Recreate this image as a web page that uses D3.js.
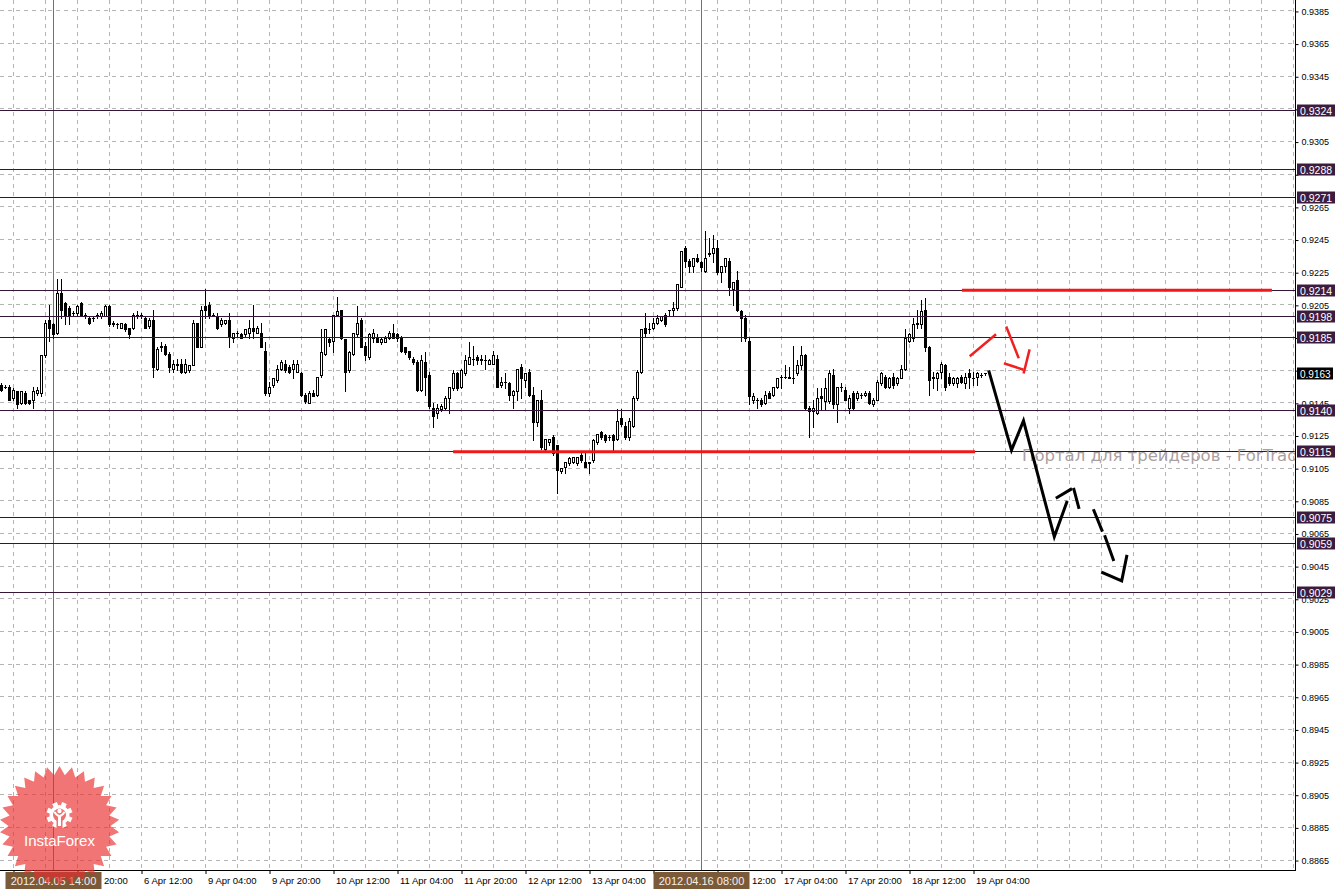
<!DOCTYPE html>
<html>
<head>
<meta charset="utf-8">
<script src="https://cdn.jsdelivr.net/npm/d3@7"></script>
<style>
  body { margin: 0; background: #fff; }
  svg { display: block; font-family: "Liberation Sans", Arial, sans-serif; }
</style>
</head>
<body>
<svg id="chart" width="1337" height="889"></svg>
<script>
"use strict";

// Hourly bars, 5 Apr 01:00 .. 19 Apr 08:00 (weekends skipped)
var opens = [
  .9156,.9155,.9155,.9148,.9152,.9145,.9151,.9147,.9147,.9151,.9151,.9174,.9196,.9193,.9188,.9212,
  .9206,.9203,.9200,.9200,.9206,.9199,.9197,.9197,.9198,.9198,.9198,.9204,.9194,.9193,.9191,.9193,
  .9191,.9191,.9198,.9198,.9197,.9192,.9196,.9166,.9179,.9180,.9175,.9166,.9168,.9169,.9164,.9165,
  .9168,.9194,.9179,.9204,.9205,.9199,.9198,.9193,.9194,.9196,.9185,.9188,.9187,.9187,.9188,.9191,
  .9188,.9188,.9177,.9151,.9156,.9159,.9166,.9169,.9167,.9166,.9164,.9163,.9150,.9145,.9151,.9150,
  .9162,.9175,.9184,.9183,.9199,.9202,.9184,.9165,.9175,.9187,.9196,.9180,.9173,.9185,.9185,.9182,
  .9182,.9185,.9188,.9187,.9185,.9179,.9177,.9172,.9170,.9153,.9170,.9162,.9142,.9139,.9141,.9142,
  .9148,.9154,.9163,.9155,.9163,.9169,.9172,.9173,.9172,.9171,.9169,.9169,.9172,.9156,.9158,.9157,
  .9150,.9152,.9167,.9159,.9164,.9150,.9133,.9147,.9117,.9121,.9124,.9119,.9103,.9106,.9108,.9109,
  .9108,.9113,.9109,.9108,.9110,.9121,.9127,.9125,.9124,.9125,.9123,.9136,.9131,.9124,.9131,.9148,
  .9164,.9191,.9190,.9191,.9194,.9196,.9199,.9202,.9202,.9203,.9216,.9240,.9232,.9229,.9234,.9231,
  .9226,.9236,.9237,.9240,.9225,.9229,.9232,.9215,.9220,.9201,.9197,.9183,.9147,.9147,.9147,.9145,
  .9151,.9150,.9155,.9161,.9161,.9160,.9160,.9163,.9168,.9174,.9142,.9140,.9139,.9149,.9146,.9146,
  .9162,.9144,.9155,.9153,.9142,.9151,.9148,.9150,.9150,.9151,.9144,.9147,.9157,.9161,.9155,.9161,
  .9157,.9160,.9166,.9183,.9185,.9193,.9193,.9202,.9179,.9160,.9160,.9164,.9168,.9161,.9157,.9157,
  .9161,.9157,.9163,.9160,.9161,.9162,.9163,.9163
];
var highs = [
  .9157,.9156,.9156,.9154,.9152,.9152,.9152,.9147,.9155,.9155,.9174,.9196,.9205,.9194,.9221,.9221,
  .9207,.9204,.9201,.9205,.9207,.9200,.9198,.9198,.9200,.9201,.9205,.9205,.9195,.9194,.9194,.9194,
  .9191,.9200,.9201,.9200,.9198,.9197,.9202,.9179,.9182,.9181,.9176,.9171,.9172,.9172,.9172,.9168,
  .9196,.9194,.9204,.9215,.9207,.9200,.9200,.9197,.9196,.9200,.9188,.9189,.9188,.9190,.9196,.9205,
  .9192,.9194,.9182,.9158,.9160,.9168,.9171,.9171,.9168,.9171,.9171,.9164,.9151,.9152,.9153,.9161,
  .9190,.9190,.9185,.9199,.9210,.9202,.9184,.9177,.9188,.9204,.9197,.9182,.9188,.9190,.9187,.9185,
  .9186,.9189,.9193,.9188,.9186,.9179,.9177,.9173,.9171,.9174,.9176,.9164,.9145,.9144,.9144,.9149,
  .9155,.9165,.9164,.9166,.9174,.9182,.9180,.9174,.9174,.9174,.9172,.9177,.9174,.9161,.9163,.9158,
  .9153,.9166,.9169,.9163,.9166,.9155,.9147,.9153,.9123,.9123,.9125,.9119,.9105,.9109,.9112,.9112,
  .9112,.9114,.9114,.9109,.9123,.9126,.9128,.9126,.9125,.9126,.9141,.9141,.9133,.9136,.9149,.9165,
  .9190,.9200,.9194,.9197,.9199,.9198,.9200,.9202,.9207,.9218,.9238,.9241,.9233,.9234,.9236,.9232,
  .9250,.9246,.9248,.9245,.9229,.9234,.9234,.9219,.9226,.9202,.9199,.9185,.9151,.9148,.9148,.9152,
  .9152,.9155,.9160,.9162,.9168,.9167,.9180,.9171,.9180,.9175,.9143,.9147,.9154,.9154,.9160,.9165,
  .9166,.9155,.9157,.9155,.9150,.9152,.9152,.9151,.9152,.9152,.9148,.9159,.9164,.9162,.9161,.9163,
  .9161,.9168,.9190,.9188,.9197,.9202,.9208,.9209,.9180,.9164,.9164,.9170,.9169,.9163,.9161,.9161,
  .9162,.9163,.9166,.9164,.9164,.9163,.9163,.9163
];
var lows = [
  .9152,.9154,.9147,.9147,.9142,.9144,.9144,.9144,.9142,.9150,.9149,.9173,.9183,.9185,.9187,.9197,
  .9193,.9193,.9199,.9199,.9199,.9197,.9193,.9195,.9197,.9197,.9198,.9192,.9192,.9191,.9191,.9189,
  .9185,.9190,.9197,.9197,.9191,.9191,.9161,.9165,.9177,.9174,.9164,.9164,.9165,.9163,.9163,.9164,
  .9168,.9179,.9179,.9197,.9197,.9198,.9190,.9192,.9193,.9179,.9182,.9186,.9185,.9186,.9185,.9185,
  .9188,.9179,.9150,.9149,.9155,.9158,.9165,.9164,.9163,.9160,.9164,.9149,.9145,.9145,.9149,.9149,
  .9161,.9174,.9180,.9176,.9198,.9184,.9152,.9164,.9174,.9186,.9179,.9171,.9172,.9182,.9182,.9181,
  .9182,.9184,.9185,.9183,.9176,.9175,.9172,.9169,.9152,.9152,.9150,.9142,.9130,.9136,.9140,.9141,
  .9139,.9153,.9153,.9154,.9162,.9169,.9168,.9169,.9169,.9166,.9169,.9169,.9155,.9155,.9154,.9147,
  .9142,.9147,.9148,.9155,.9149,.9122,.9131,.9117,.9116,.9119,.9113,.9090,.9102,.9102,.9107,.9108,
  .9107,.9109,.9106,.9102,.9109,.9120,.9123,.9121,.9122,.9116,.9122,.9131,.9123,.9122,.9130,.9147,
  .9163,.9186,.9188,.9190,.9193,.9195,.9192,.9198,.9198,.9202,.9216,.9228,.9225,.9225,.9231,.9226,
  .9225,.9235,.9231,.9224,.9219,.9225,.9211,.9205,.9201,.9183,.9183,.9144,.9145,.9142,.9143,.9144,
  .9148,.9149,.9154,.9154,.9160,.9160,.9157,.9162,.9166,.9141,.9124,.9130,.9138,.9141,.9141,.9145,
  .9142,.9133,.9152,.9147,.9139,.9141,.9147,.9148,.9149,.9144,.9143,.9147,.9156,.9154,.9154,.9154,
  .9156,.9160,.9165,.9182,.9183,.9191,.9191,.9177,.9150,.9154,.9153,.9160,.9153,.9156,.9156,.9155,
  .9157,.9154,.9154,.9156,.9156,.9161,.9162,.9163
];
var closes = [
  .9153,.9155,.9147,.9153,.9144,.9152,.9145,.9145,.9152,.9153,.9174,.9194,.9191,.9187,.9212,.9202,
  .9199,.9198,.9200,.9204,.9199,.9198,.9194,.9197,.9199,.9200,.9204,.9193,.9193,.9193,.9194,.9190,
  .9187,.9199,.9199,.9199,.9191,.9196,.9167,.9178,.9180,.9175,.9167,.9169,.9169,.9164,.9169,.9168,
  .9194,.9179,.9202,.9202,.9198,.9199,.9191,.9196,.9196,.9186,.9188,.9188,.9185,.9190,.9191,.9189,
  .9191,.9179,.9151,.9155,.9160,.9166,.9170,.9165,.9164,.9169,.9169,.9150,.9146,.9151,.9149,.9161,
  .9176,.9190,.9182,.9199,.9201,.9185,.9164,.9176,.9188,.9194,.9179,.9174,.9187,.9188,.9182,.9184,
  .9185,.9188,.9185,.9185,.9177,.9176,.9173,.9170,.9153,.9171,.9161,.9143,.9137,.9142,.9143,.9148,
  .9155,.9163,.9154,.9165,.9171,.9173,.9172,.9171,.9171,.9171,.9171,.9174,.9155,.9158,.9158,.9150,
  .9152,.9166,.9160,.9163,.9150,.9133,.9147,.9118,.9123,.9123,.9114,.9104,.9105,.9109,.9111,.9112,
  .9112,.9110,.9106,.9109,.9122,.9126,.9124,.9122,.9124,.9122,.9134,.9132,.9124,.9134,.9148,.9164,
  .9190,.9188,.9190,.9194,.9197,.9198,.9193,.9202,.9203,.9218,.9238,.9232,.9229,.9234,.9232,.9228,
  .9234,.9237,.9240,.9225,.9229,.9234,.9216,.9219,.9202,.9197,.9185,.9149,.9149,.9147,.9144,.9150,
  .9148,.9155,.9160,.9161,.9161,.9161,.9160,.9168,.9174,.9142,.9140,.9142,.9148,.9148,.9154,.9163,
  .9144,.9155,.9155,.9147,.9148,.9142,.9151,.9150,.9151,.9145,.9147,.9158,.9163,.9155,.9160,.9156,
  .9160,.9166,.9185,.9187,.9193,.9194,.9201,.9179,.9159,.9161,.9163,.9169,.9155,.9157,.9160,.9160,
  .9158,.9161,.9161,.9160,.9163,.9162,.9163,.9163
];

var priceTicks = [.9385,.9365,.9345,.9325,.9305,.9285,.9265,.9245,.9225,.9205,.9185,.9165,.9145,.9125,
                  .9105,.9085,.9065,.9045,.9025,.9005,.8985,.8965,.8945,.8925,.8905,.8885,.8865];
var timeTickIndex = [3, 19, 35, 51, 67, 83, 99, 115, 131, 147, 163, 179, 195, 211, 227, 243];
// what can be read of each label (parts under the cursor boxes are hidden)
var timeTickLabels = ["", "20:00", "6 Apr 12:00", "9 Apr 04:00", "9 Apr 20:00",
                      "10 Apr 12:00", "11 Apr 04:00", "11 Apr 20:00", "12 Apr 12:00", "13 Apr 04:00",
                      "", "12:00", "17 Apr 04:00", "17 Apr 20:00", "18 Apr 12:00",
                      "19 Apr 04:00"];

// horizontal levels drawn on the chart
var levels = [.9324, .9288, .9271, .9214, .9198, .9185, .9140, .9115, .9075, .9059, .9029];
var lastPrice = .9163;

// vertical cursor lines
var cursorIndex = [13, 175];
var cursorLabels = ["2012.04.05 14:00", "2012.04.16 08:00"];

// red support / resistance segments: [from bar, to bar, price]
var redLevels = [[112.9, 243.4, .9115], [240.1, 317.6, .9214]];

// hand drawn forecast, points as [bar index, price]
var forecastMain = [[246.9, .9164], [252.5, .9116], [255.5, .9134], [263.2, .9063], [266.3, .9084]];
var forecastDashes = [
  [[263.9, .9087], [267.3, .9092]],
  [[268.1, .9092], [269.3, .9081]],
  [[273.1, .9079], [275.1, .9067]],
  [[275.9, .9063], [277.95, .9049]],
  [[275.3, .9041], [280.05, .9036], [281.3, .9051]]
];
var redArrow = [
  [[242.3, .9174], [248.4, .91865]],
  [[251.3, .9191], [254.2, .9173]],
  [[250.9, .9169], [255.2, .91655]],
  [[256.95, .9177], [255.6, .91637]]
];

var plotRight = 1295;
var plotBottom = 870;
var cursorBoxW = 96;

var svg = d3.select("#chart");

var x = d3.scaleLinear().domain([0, 323]).range([1.5, 1293.5]);
var y = d3.scaleLinear().domain([0.88589, 0.93917]).range([plotBottom, 0]);

function snap(v) { return Math.round(v - 0.5) + 0.5; }

svg.append("rect").attr("width", 1337).attr("height", 889).attr("fill", "#fff");

svg.append("defs").append("clipPath").attr("id", "plot")
    .append("rect").attr("width", plotRight).attr("height", plotBottom);

// Grid
var grid = svg.append("g")
    .attr("stroke", "#b4b4b4")
    .attr("stroke-dasharray", "4,4");
grid.selectAll("line.h").data(priceTicks).enter().append("line")
    .attr("x1", 0).attr("x2", plotRight)
    .attr("y1", function(d) { return snap(y(d)); })
    .attr("y2", function(d) { return snap(y(d)); });
grid.selectAll("line.v").data(d3.range(3, 324, 8)).enter().append("line")
    .attr("x1", function(d) { return x(d); })
    .attr("x2", function(d) { return x(d); })
    .attr("y1", 0).attr("y2", plotBottom);

// Cursor lines
svg.append("g").selectAll("line").data(cursorIndex).enter().append("line")
    .attr("x1", function(d) { return x(d); })
    .attr("x2", function(d) { return x(d); })
    .attr("y1", 0).attr("y2", plotBottom)
    .attr("stroke", "#8a6a52");

// Candles
var bars = d3.range(closes.length).map(function(i) {
    return {i: i, o: opens[i], h: highs[i], l: lows[i], c: closes[i]};
});

var gBars = svg.append("g");
gBars.selectAll("line.wick").data(bars).enter().append("line")
    .attr("x1", function(d) { return x(d.i); })
    .attr("x2", function(d) { return x(d.i); })
    .attr("y1", function(d) { return Math.round(y(d.h)); })
    .attr("y2", function(d) { return Math.round(y(d.l)) + 1; })
    .attr("stroke", "#000");

bars.forEach(function(d) {
    var top = Math.round(y(Math.max(d.o, d.c)));
    var bot = Math.round(y(Math.min(d.o, d.c)));
    if (bot - top < 1) {
        gBars.append("line")
            .attr("x1", x(d.i) - 1.5).attr("x2", x(d.i) + 1.5)
            .attr("y1", top + 0.5).attr("y2", top + 0.5)
            .attr("stroke", "#000");
    } else {
        gBars.append("rect")
            .attr("x", x(d.i) - 1).attr("width", 2)
            .attr("y", top + 0.5).attr("height", bot - top)
            .attr("fill", d.c >= d.o ? "#fff" : "#000")
            .attr("stroke", "#000");
    }
});

// Level lines
svg.append("g").selectAll("line").data(levels).enter().append("line")
    .attr("x1", 0).attr("x2", plotRight)
    .attr("y1", function(d) { return snap(y(d)); })
    .attr("y2", function(d) { return snap(y(d)); })
    .attr("stroke", "#351538");

// Red support / resistance
svg.append("g").selectAll("line").data(redLevels).enter().append("line")
    .attr("x1", function(d) { return x(d[0]); })
    .attr("x2", function(d) { return x(d[1]); })
    .attr("y1", function(d) { return y(d[2]); })
    .attr("y2", function(d) { return y(d[2]); })
    .attr("stroke", "#f01818")
    .attr("stroke-width", 3);

// Watermark
svg.append("text")
    .attr("clip-path", "url(#plot)")
    .attr("x", 1022).attr("y", 461)
    .attr("font-size", 16.5)
    .attr("font-family", "'DejaVu Sans', Verdana, sans-serif")
    .attr("fill", "#aaa0a0")
    .text("Портал для трейдеров - ForTrader.ru");

// Forecast drawing
var line = d3.line()
    .x(function(d) { return x(d[0]); })
    .y(function(d) { return y(d[1]); });

var fc = svg.append("g").attr("fill", "none").attr("stroke-linecap", "square");
fc.append("path").attr("d", line(forecastMain))
    .attr("stroke", "#000").attr("stroke-width", 3);
fc.selectAll("path.dash").data(forecastDashes).enter().append("path")
    .attr("d", line)
    .attr("stroke", "#000").attr("stroke-width", 3);
fc.selectAll("path.red").data(redArrow).enter().append("path")
    .attr("d", line)
    .attr("stroke", "#f02020").attr("stroke-width", 2.5);

// Axes frame
svg.append("line").attr("x1", plotRight + 0.5).attr("x2", plotRight + 0.5)
    .attr("y1", 0).attr("y2", plotBottom + 1).attr("stroke", "#000");
svg.append("line").attr("x1", 0).attr("x2", plotRight + 1)
    .attr("y1", plotBottom + 0.5).attr("y2", plotBottom + 0.5).attr("stroke", "#000");

// Price axis; tick labels that sit under a level box are not shown
var boxed = levels.concat([lastPrice]);
var yAxis = svg.append("g")
    .attr("transform", "translate(" + (plotRight + 0.5) + ",0.5)")
    .call(d3.axisRight(y).tickValues(priceTicks).tickSize(3).tickSizeOuter(0)
        .tickFormat(d3.format(".4f")));
yAxis.select(".domain").remove();
yAxis.selectAll("text").attr("font-size", 9).attr("fill", "#000")
    .attr("font-family", "'Liberation Sans', Arial, sans-serif");
yAxis.selectAll(".tick").filter(function(d) {
    return boxed.some(function(p) { return Math.abs(y(p) - y(d)) < 6; });
}).select("text").remove();

// Time axis
var cursorX = cursorIndex.map(function(i) { return x(i); });
var xAxis = svg.append("g")
    .attr("transform", "translate(0," + plotBottom + ")")
    .call(d3.axisBottom(x).tickValues(timeTickIndex).tickSize(4).tickSizeOuter(0)
        .tickFormat(function(d, k) { return timeTickLabels[k]; }));
xAxis.select(".domain").remove();
xAxis.selectAll("text")
    .attr("text-anchor", "start")
    .attr("dx", function(d) {
        var tx = x(d);
        var shift = 2;
        cursorX.forEach(function(cx) {
            var left = cx - cursorBoxW / 2, right = cx + cursorBoxW / 2;
            if (tx >= left && tx < right) shift = right - tx + 2;
        });
        return shift;
    })
    .attr("font-size", 9.5).attr("fill", "#000")
    .attr("font-family", "'Liberation Sans', Arial, sans-serif");
xAxis.selectAll("text").filter(function() { return this.textContent === ""; }).remove();

// Level price boxes
var boxes = svg.append("g");
levels.forEach(function(p) {
    var yy = snap(y(p));
    boxes.append("rect").attr("x", 1297).attr("y", yy - 6)
        .attr("width", 38).attr("height", 12).attr("fill", "#3c1c3e");
    boxes.append("text").attr("x", 1300).attr("y", yy + 4)
        .attr("font-size", 10.5).attr("fill", "#fff")
        .text(d3.format(".4f")(p));
});
var ly = snap(y(lastPrice));
boxes.append("rect").attr("x", 1297).attr("y", ly - 6)
    .attr("width", 36).attr("height", 12).attr("fill", "#000");
boxes.append("text").attr("x", 1300).attr("y", ly + 4)
    .attr("font-size", 10).attr("fill", "#fff")
    .text(d3.format(".4f")(lastPrice));

// Cursor time boxes
cursorX.forEach(function(cx, k) {
    boxes.append("rect").attr("x", cx - cursorBoxW / 2).attr("y", 872)
        .attr("width", cursorBoxW).attr("height", 17).attr("fill", "#7b5a3a");
    boxes.append("text").attr("x", cx).attr("y", 885)
        .attr("text-anchor", "middle")
        .attr("font-size", 11).attr("fill", "#f6efe4")
        .text(cursorLabels[k]);
});

// InstaForex badge
var logo = svg.append("g").attr("transform", "translate(59.5,826)");
var spikes = 30;
var starPts = d3.range(spikes * 2).map(function(k) {
    return [k * Math.PI / spikes, k % 2 ? 51 : 60];
});
logo.append("path")
    .attr("d", d3.lineRadial().curve(d3.curveLinearClosed)(starPts))
    .attr("fill", "rgba(234,46,46,0.66)");

var gear = logo.append("g").attr("transform", "translate(0,-11)");
d3.range(8).forEach(function(k) {
    gear.append("rect").attr("x", -2.5).attr("y", -13).attr("width", 5).attr("height", 5)
        .attr("fill", "#fff").attr("transform", "rotate(" + (k * 45 + 22.5) + ")");
});
gear.append("circle").attr("r", 10).attr("fill", "#fff");
gear.append("circle").attr("r", 6.5).attr("fill", "#f07070");
gear.append("rect").attr("x", -3).attr("y", 5).attr("width", 6).attr("height", 9).attr("fill", "#f07070");
gear.append("circle").attr("cy", -4).attr("r", 2.2).attr("fill", "#fff");
gear.append("path").attr("d", "M-5,-3 Q0,5 5,-3")
    .attr("stroke", "#fff").attr("stroke-width", 2).attr("fill", "none");
gear.append("rect").attr("x", -1.5).attr("y", 0).attr("width", 3).attr("height", 11).attr("fill", "#fff");

logo.append("text").attr("y", 20).attr("text-anchor", "middle")
    .attr("font-size", 15).attr("fill", "#fff")
    .text("InstaForex");
</script>
</body>
</html>
